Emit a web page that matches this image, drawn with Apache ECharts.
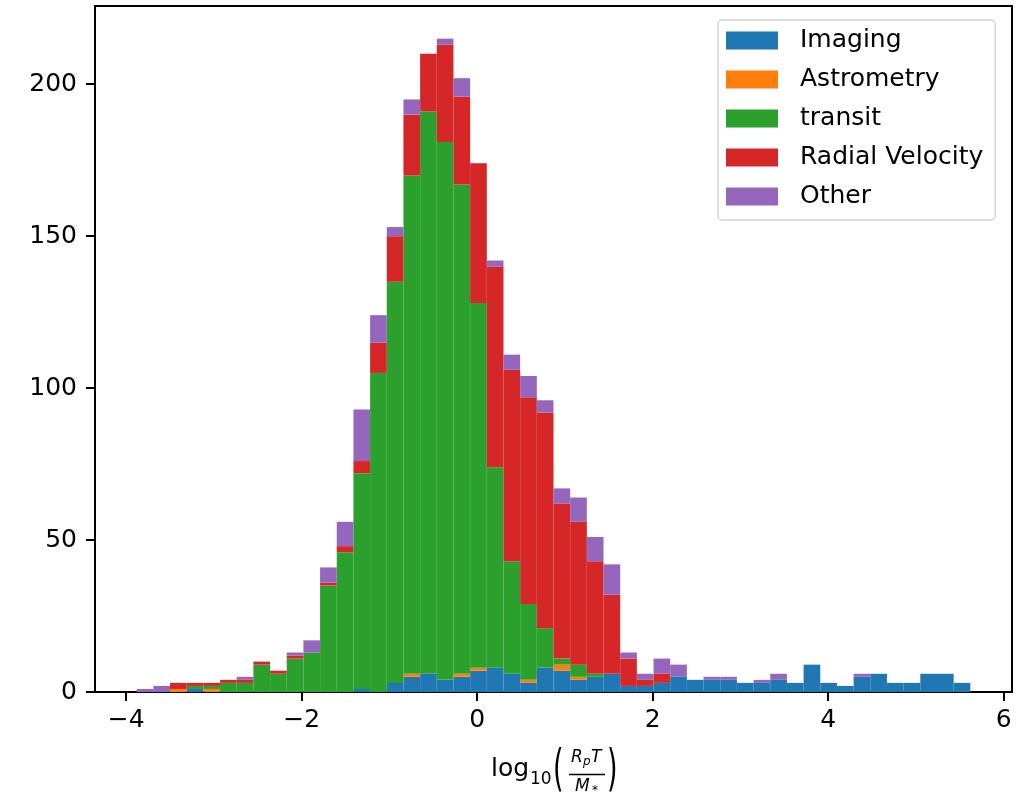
<!DOCTYPE html>
<html>
<head>
<meta charset="utf-8">
<title>Stacked histogram by discovery method</title>
<script src="https://cdn.jsdelivr.net/npm/echarts@6/dist/echarts.min.js"></script>
<style>
  html, body { margin: 0; padding: 0; background: #fff; }
  #chart { width: 1023px; height: 793px; }
</style>
</head>
<body>
<div id="chart"></div>
<script>
// ── Data: 50 bins, first edge and bin width in log10 units ─────────────────
const BIN_LO = -3.88;
const BIN_W = 0.19;

const methods = ['Imaging', 'Astrometry', 'transit', 'Radial Velocity', 'Other'];
const colors = ['#1f77b4', '#ff7f0e', '#2ca02c', '#d62728', '#9467bd'];

// counts per bin, one array per method (stacked in this order, bottom first)
const imaging = [0, 0, 0, 1, 0, 0, 0, 0, 0, 0, 0, 0, 0, 1, 0, 3, 5, 6, 4, 5,
  7, 8, 6, 3, 8, 7, 4, 5, 6, 2, 2, 3, 5, 4, 4, 4, 3, 3, 4, 3,
  9, 3, 2, 5, 6, 3, 3, 6, 6, 3];
const astrometry = [0, 0, 1, 0, 1, 0, 0, 0, 0, 0, 0, 0, 0, 0, 0, 0, 1, 0, 0, 1,
  1, 0, 0, 1, 0, 2, 1, 0, 0, 0, 0, 0, 0, 0, 0, 0, 0, 0, 0, 0,
  0, 0, 0, 0, 0, 0, 0, 0, 0, 0];
const transit = [0, 0, 0, 1, 1, 3, 3, 9, 6, 11, 13, 35, 46, 71, 105, 132, 164, 185, 177, 161,
  120, 66, 37, 25, 13, 2, 4, 1, 0, 0, 0, 0, 0, 0, 0, 0, 0, 0, 0, 0,
  0, 0, 0, 0, 0, 0, 0, 0, 0, 0];
const radialVelocity = [0, 0, 2, 1, 1, 1, 1, 1, 1, 1, 0, 1, 2, 4, 10, 15, 20, 19, 32, 29,
  46, 66, 63, 68, 71, 51, 47, 37, 26, 9, 2, 3, 0, 0, 0, 0, 0, 0, 0, 0,
  0, 0, 0, 0, 0, 0, 0, 0, 0, 0];
const other = [1, 2, 0, 0, 0, 0, 1, 0, 0, 1, 4, 5, 8, 17, 9, 3, 5, 0, 2, 6,
  0, 2, 5, 7, 4, 5, 8, 8, 10, 2, 2, 5, 4, 0, 1, 1, 0, 1, 2, 0,
  0, 0, 0, 1, 0, 0, 0, 0, 0, 0];

const counts = [imaging, astrometry, transit, radialVelocity, other];

const xTicks = [-4, -2, 0, 2, 4, 6];
const yTicks = [0, 50, 100, 150, 200];

// ── Build stacked rectangles [x0, x1, y0, y1] ─────────────────────────────
const base = new Array(imaging.length).fill(0);
const seriesData = counts.map((arr) => {
  const rects = [];
  arr.forEach((n, i) => {
    if (n > 0) {
      const x0 = BIN_LO + i * BIN_W;
      rects.push([x0, x0 + BIN_W, base[i], base[i] + n]);
    }
    base[i] += n;
  });
  return rects;
});

function renderBar(params, api) {
  const p0 = api.coord([api.value(0), api.value(3)]);
  const p1 = api.coord([api.value(1), api.value(2)]);
  return {
    type: 'rect',
    shape: { x: p0[0], y: p0[1], width: p1[0] - p0[0], height: p1[1] - p0[1] },
    style: { fill: api.visual('color') }
  };
}

const FONT = 'DejaVu Sans';
const chart = echarts.init(document.getElementById('chart'), null, { renderer: 'canvas' });

chart.setOption({
  animation: false,
  backgroundColor: '#fff',
  textStyle: { fontFamily: FONT },
  grid: {
    left: 95, right: 11, top: 6, bottom: 101,
    show: true, borderColor: '#000', borderWidth: 2, backgroundColor: 'transparent'
  },
  legend: {
    orient: 'vertical',
    left: 718, top: 20,
    icon: 'rect',
    itemWidth: 52, itemHeight: 18,
    itemGap: 14,
    padding: [8, 12, 11, 8],
    backgroundColor: 'rgba(255,255,255,0.8)',
    borderColor: '#d6d6d6', borderWidth: 1.5, borderRadius: 4,
    textStyle: { fontFamily: FONT, fontSize: 25, color: '#000', lineHeight: 25, padding: [0, 0, 0, 17] },
    data: methods
  },
  xAxis: {
    type: 'value',
    min: -4.355, max: 6.095,
    splitLine: { show: false },
    axisLine: { show: true, onZero: false, lineStyle: { color: '#000', width: 2 } },
    axisTick: { show: true, length: 9, lineStyle: { color: '#000', width: 2 }, customValues: xTicks },
    axisLabel: {
      color: '#000', fontSize: 25, fontFamily: FONT, margin: 16,
      customValues: xTicks,
      formatter: (v) => String(v).replace('-', '\u2212')
    }
  },
  yAxis: {
    type: 'value',
    min: 0, max: 225.75,
    splitLine: { show: false },
    axisLine: { show: true, onZero: false, lineStyle: { color: '#000', width: 2 } },
    axisTick: { show: true, length: 9, lineStyle: { color: '#000', width: 2 }, customValues: yTicks },
    axisLabel: { color: '#000', fontSize: 25, fontFamily: FONT, margin: 18, customValues: yTicks }
  },
  series: methods.map((name, k) => ({
    name,
    type: 'custom',
    renderItem: renderBar,
    clip: true,
    itemStyle: { color: colors[k] },
    encode: { x: [0, 1], y: [2, 3] },
    data: seriesData[k]
  })),
  // axis title: log10(Rp T / M*) written out as text pieces
  graphic: [
    { type: 'text', left: 491, top: 757, style: { text: 'log', font: '25px "DejaVu Sans"', fill: '#000' } },
    { type: 'text', left: 530, top: 771, style: { text: '10', font: '17px "DejaVu Sans"', fill: '#000' } },
    { type: 'text', x: 553, y: 747, scaleY: 1.85, style: { text: '(', font: '27px "DejaVu Sans"', fill: '#000' } },
    { type: 'text', left: 571, top: 749, style: { text: 'R', font: 'italic 17px "DejaVu Sans"', fill: '#000' } },
    { type: 'text', left: 583, top: 756, style: { text: 'p', font: 'italic 12px "DejaVu Sans"', fill: '#000' } },
    { type: 'text', left: 591, top: 749, style: { text: 'T', font: 'italic 17px "DejaVu Sans"', fill: '#000' } },
    { type: 'line', shape: { x1: 569, y1: 774.5, x2: 605, y2: 774.5 }, style: { stroke: '#000', lineWidth: 1.5 } },
    { type: 'text', left: 575, top: 778, style: { text: 'M', font: 'italic 17px "DejaVu Sans"', fill: '#000' } },
    { type: 'text', left: 592, top: 785, style: { text: '*', font: '12px "DejaVu Sans"', fill: '#000' } },
    { type: 'text', x: 607, y: 747, scaleY: 1.85, style: { text: ')', font: '27px "DejaVu Sans"', fill: '#000' } }
  ]
});
</script>
</body>
</html>
